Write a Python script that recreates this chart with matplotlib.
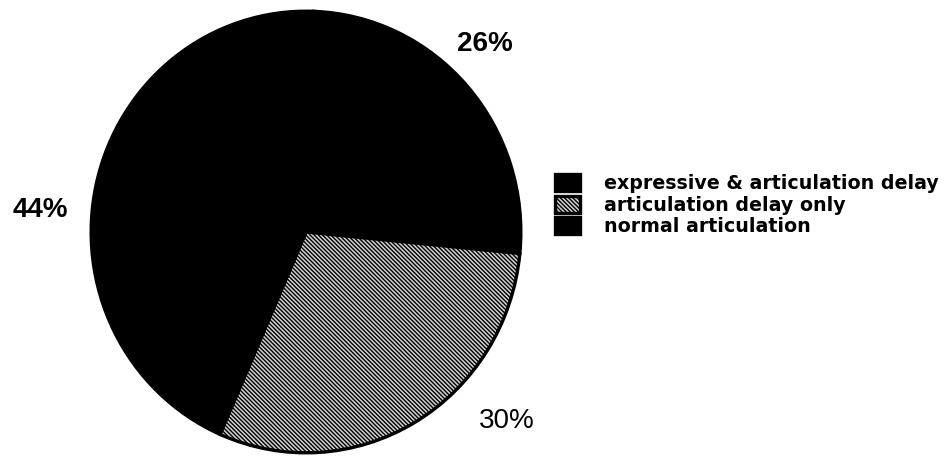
import matplotlib
matplotlib.use("Agg")
import matplotlib.pyplot as plt

categories = ["expressive & articulation delay", "articulation delay only", "normal articulation"]
shares = [26, 30, 44]
label_texts = [f"{v}%" for v in shares]

plt.rcParams["font.family"] = ["Liberation Sans", "DejaVu Sans"]
plt.rcParams["hatch.linewidth"] = 1.0

W, H = 945, 458
fig = plt.figure(figsize=(W / 100, H / 100), dpi=100)

# pie occupies a slightly tall ellipse: x 89..523 px, y 9..455 px from top
left, right, top, bottom = 89, 523, 9, 455
ax = fig.add_axes([left / W, (H - bottom) / H, (right - left) / W, (bottom - top) / H])

wedges, _ = ax.pie(
    shares,
    startangle=88,
    counterclock=False,
    colors=["black", "#d2d2d2", "black"],
    wedgeprops=dict(edgecolor="black", linewidth=2.4),
)
wedges[1].set_hatch("\\" * 8)

ax.set_aspect("auto")
ax.set_xlim(-1.01, 1.01)
ax.set_ylim(-1.01, 1.01)
ax.axis("off")

# percentage labels
fig.text(485 / W, 1 - 44 / H, label_texts[0], ha="center", va="center",
         fontsize=20, fontweight="bold")
fig.text(507 / W, 1 - 421 / H, label_texts[1], ha="center", va="center",
         fontsize=20)
fig.text(40 / W, 1 - 210 / H, label_texts[2], ha="center", va="center",
         fontsize=20, fontweight="bold")

fig.legend(
    wedges, categories,
    loc="upper left",
    bbox_to_anchor=(555 / W, 1 - 174 / H),
    frameon=False,
    prop=dict(family="DejaVu Sans", weight="bold", size=13.7),
    handlelength=1.3,
    handleheight=1.0,
    handletextpad=1.25,
    labelspacing=0.14,
    borderpad=0,
    borderaxespad=0,
)

fig.savefig("out.png", dpi=100, facecolor="white")
